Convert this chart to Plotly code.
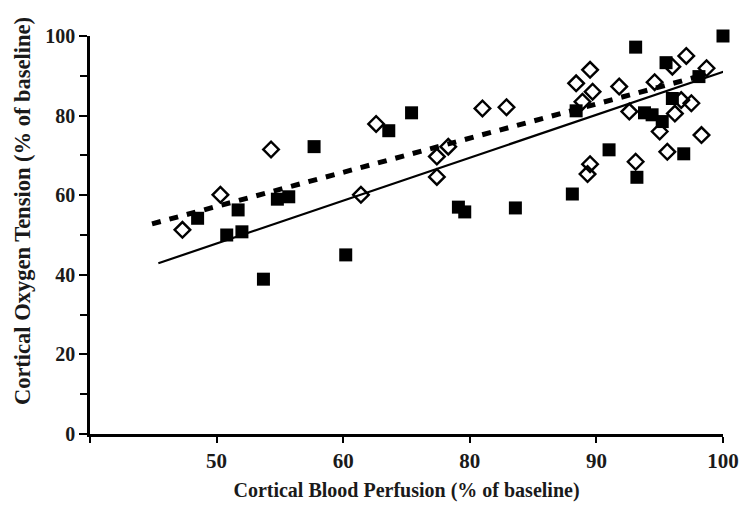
import plotly.graph_objects as go

# Filled squares
sq_x = [100.0, 93.1, 95.5, 96.0, 98.1, 88.4, 93.8, 94.4, 95.2, 91.0, 96.9, 93.2, 88.1,
        75.4, 73.6, 67.7, 58.5, 61.7, 60.8, 62.0, 64.8, 65.7, 63.7, 70.2, 79.1, 79.6, 83.6]
sq_y = [100.0, 97.2, 93.3, 84.3, 89.8, 81.2, 80.7, 80.2, 78.5, 71.4, 70.4, 64.5, 60.3,
        80.7, 76.2, 72.2, 54.2, 56.3, 50.0, 50.8, 59.0, 59.6, 38.9, 45.0, 57.0, 55.8, 56.8]

# Open diamonds
di_x = [97.1, 98.7, 96.0, 89.5, 88.4, 89.7, 88.9, 91.8, 94.6, 96.7, 97.5, 92.6, 96.2,
        95.0, 98.3, 95.6, 93.1, 89.5, 89.3, 81.0, 82.9, 77.4, 78.3, 77.4, 72.6, 64.3, 60.3,
        57.3, 71.4]
di_y = [95.0, 91.9, 92.3, 91.5, 88.1, 86.0, 83.5, 87.3, 88.4, 83.9, 83.1, 81.0, 80.5,
        76.0, 75.1, 70.9, 68.4, 67.8, 65.3, 81.8, 82.1, 69.7, 72.2, 64.6, 77.9, 71.5, 60.1,
        51.3, 60.1]

# Regression lines (endpoints)
solid_x = [55.4, 100.3]
solid_y = [42.9, 91.3]
dash_x = [54.9, 98.6]
dash_y = [52.8, 90.3]

x_tickvals = [50, 60, 70, 80, 90, 100]
x_ticktext = ["", "50", "60", "80", "90", "100"]
y_tickvals = [0, 20, 40, 60, 80, 100]

FONT = "Liberation Serif"
INK = "#1a1a1a"

fig = go.Figure()
fig.add_trace(go.Scatter(x=solid_x, y=solid_y, mode="lines",
                         line=dict(color="black", width=2.2), showlegend=False))
fig.add_trace(go.Scatter(x=dash_x, y=dash_y, mode="lines",
                         line=dict(color="black", width=5, dash="9px,9px"), showlegend=False))
fig.add_trace(go.Scatter(x=sq_x, y=sq_y, mode="markers", cliponaxis=False,
                         marker=dict(symbol="square", size=13, color="black",
                                     line=dict(width=0)), showlegend=False))
fig.add_trace(go.Scatter(x=di_x, y=di_y, mode="markers", cliponaxis=False,
                         marker=dict(symbol="diamond-open", size=12, color="black",
                                     line=dict(width=2.4, color="black")), showlegend=False))

fig.update_layout(
    width=742, height=506,
    margin=dict(l=90, r=19, t=36, b=72),
    plot_bgcolor="white", paper_bgcolor="white",
    font=dict(family=FONT, color=INK),
    annotations=[dict(
        text="<b>Cortical Oxygen Tension (% of baseline)</b>",
        xref="paper", yref="paper", x=0, y=0.56, xshift=-68,
        xanchor="center", yanchor="middle", textangle=-90, showarrow=False,
        font=dict(family=FONT, size=22.5, color=INK),
    )],
)
fig.update_xaxes(
    range=[50, 100], showgrid=False, zeroline=False, automargin=False,
    showline=True, linecolor="black", linewidth=2.5,
    ticks="outside", ticklen=6, tickwidth=2, tickcolor="black",
    tickvals=x_tickvals, ticktext=[f"<b>{t}</b>" if t else "" for t in x_ticktext],
    tickfont=dict(family=FONT, size=21, color=INK),
    title=dict(text="<b>Cortical Blood Perfusion (% of baseline)</b>",
               font=dict(family=FONT, size=20, color=INK), standoff=12),
)
fig.update_yaxes(
    range=[0, 100], showgrid=False, zeroline=False, automargin=False,
    showline=True, linecolor="black", linewidth=2.5,
    ticks="outside", ticklen=8, tickwidth=2, tickcolor="black",
    tickvals=y_tickvals, ticktext=[f"<b>{v}</b>" for v in y_tickvals],
    minor=dict(ticks="outside", ticklen=7, tickwidth=2, tickcolor="black", dtick=10),
    tickfont=dict(family=FONT, size=20, color=INK),
)

fig.write_html("out.html", config={"displayModeBar": False},
               post_script="document.body.style.margin='0';document.body.style.overflow='hidden';")
